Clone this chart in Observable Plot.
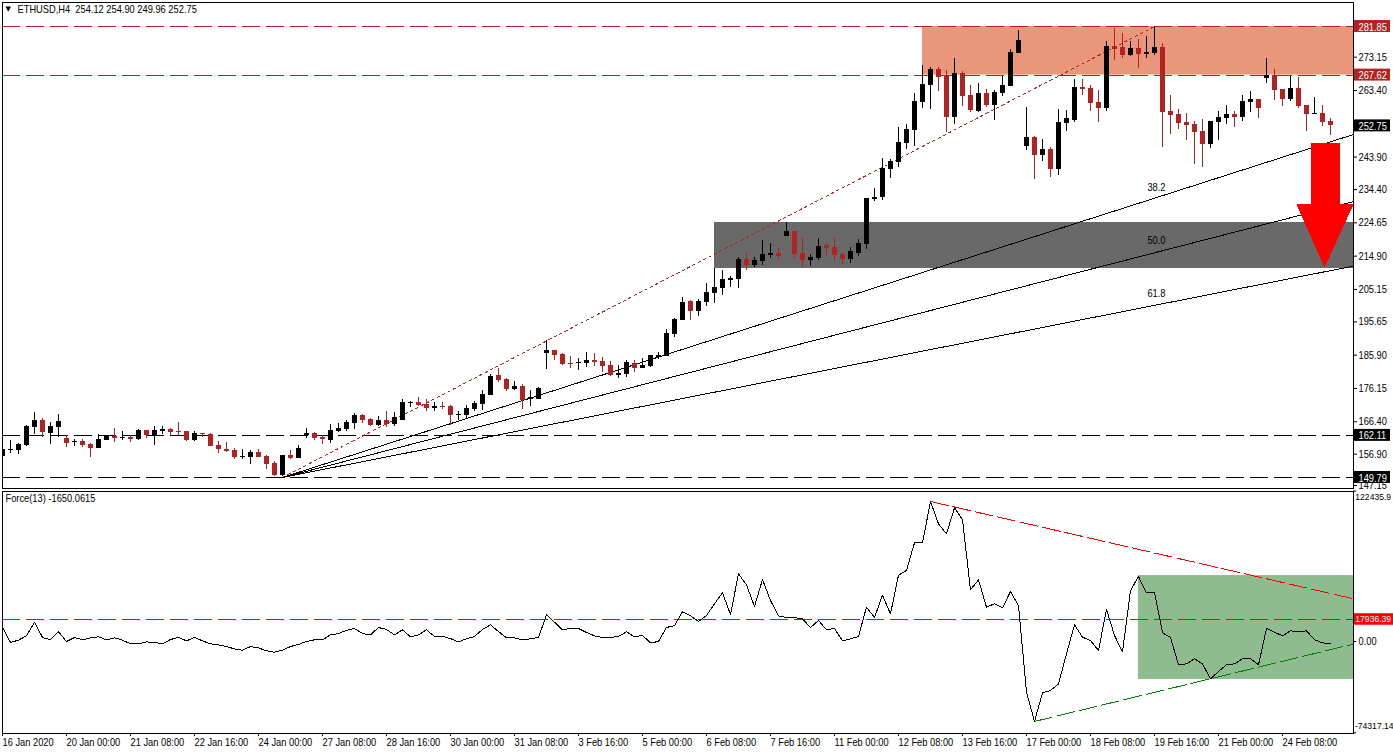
<!DOCTYPE html>
<html>
<head>
<meta charset="utf-8">
<script src="https://cdn.jsdelivr.net/npm/d3@7"></script>
<script src="https://cdn.jsdelivr.net/npm/@observablehq/plot@0.6"></script>
<style>
html,body{margin:0;padding:0;background:#fff;overflow:hidden}
svg{display:block;overflow:visible}
</style>
</head>
<body>
<div id="chart"></div>
<script>
const highs=[158.87,160.63,159.85,165.02,168.83,167.07,165.90,168.24,162.09,160.92,160.92,159.75,162.29,162.09,164.14,163.26,162.09,163.85,163.56,164.73,164.73,164.14,165.90,163.26,163.26,162.68,162.68,160.34,160.04,158.29,157.99,157.70,157.99,156.24,154.48,156.24,157.70,159.16,
164.15,162.97,162.10,165.32,165.61,166.49,168.54,168.24,167.07,167.66,169.12,168.83,172.64,172.05,173.22,172.64,171.76,171.76,170.88,169.12,170.88,172.05,175.27,179.96,181.71,178.79,177.91,177.03,175.27,176.15,189.91,186.98,186.10,185.23,184.64,186.40,
186.10,184.93,183.76,182.59,184.05,184.05,184.64,185.51,186.39,193.13,196.35,202.50,201.62,201.91,206.60,210.99,210.40,208.65,214.21,215.38,214.21,219.19,218.31,216.84,224.46,221.82,219.77,215.09,219.77,218.31,219.77,215.67,217.14,219.48,
231.48,234.41,243.19,242.90,252.27,253.15,262.23,270.42,269.84,269.84,268.96,272.47,268.67,264.57,265.15,263.40,263.10,267.20,275.11,280.67,258.13,249.64,248.76,246.41,257.54,
257.25,266.33,266.33,264.57,263.11,277.45,281.26,279.80,277.45,278.04,278.92,281.85,276.87,261.64,257.54,256.37,254.03,254.61,254.03,256.96,258.71,256.96,261.64,262.81,260.47,272.48,269.26,263.40,267.21,266.91,258.71,261.06,258.71,254.90];
const bodyTops=[157.99,157.99,159.46,164.73,166.48,166.48,164.73,166.19,161.21,160.34,160.34,159.46,160.92,161.80,161.80,161.51,161.51,163.56,163.56,163.56,163.85,163.85,163.26,163.26,162.68,162.68,162.38,159.16,157.99,157.70,155.94,157.11,157.11,155.94,153.89,156.24,156.24,158.29,
162.68,162.68,161.51,163.56,164.15,165.90,167.95,167.95,166.78,166.49,166.49,167.37,171.76,171.76,171.76,171.17,170.59,170.59,170.59,168.24,170.00,171.47,174.10,179.37,179.66,178.49,176.44,176.44,173.22,175.86,186.98,186.98,185.81,183.18,183.47,184.06,
184.05,183.76,182.59,180.24,183.46,183.17,182.59,185.51,185.51,191.96,196.05,201.03,201.33,201.33,203.96,205.42,207.77,208.06,213.62,213.62,213.33,215.09,215.38,215.38,221.82,221.82,215.38,214.21,217.43,217.72,217.14,215.09,215.97,218.31,
231.48,231.77,240.27,242.32,247.88,251.68,259.88,264.86,269.25,269.25,267.50,268.08,268.08,261.64,262.23,262.23,262.52,264.57,274.23,277.74,249.34,249.34,245.83,245.83,253.73,
254.91,263.98,263.98,263.69,259.59,275.99,275.99,275.70,275.40,275.40,274.23,275.70,275.70,256.96,256.08,253.74,253.15,251.10,254.03,255.20,256.08,256.08,259.89,260.47,260.47,267.50,267.50,263.40,263.69,263.69,258.71,256.37,256.37,254.12];
const bodyBottoms=[156.04,157.80,157.70,159.16,164.43,162.97,162.68,164.43,159.75,159.94,159.16,158.29,158.29,160.63,161.21,161.21,160.92,160.92,162.09,162.09,163.26,162.97,162.97,160.63,160.63,162.29,158.87,157.99,157.41,155.65,155.65,155.65,155.65,153.60,150.38,150.38,155.36,155.36,
162.10,161.22,160.92,160.63,163.27,163.85,165.61,166.49,165.02,165.02,165.32,165.32,166.49,171.47,170.88,170.00,170.00,170.29,167.95,167.95,167.95,169.71,171.17,173.81,178.20,175.56,175.56,172.34,172.64,172.64,186.10,185.52,182.88,182.88,183.08,183.18,
183.46,182.29,179.66,179.66,179.95,181.71,181.71,182.29,184.93,185.22,191.66,195.76,198.40,198.40,201.03,203.67,205.13,207.47,207.77,211.87,211.87,213.04,214.79,214.50,220.36,215.09,213.33,213.33,213.92,216.84,214.79,213.62,213.62,215.38,
218.01,231.19,231.77,239.97,242.02,247.59,251.39,259.59,264.57,266.91,255.20,255.20,261.35,257.25,256.96,258.71,258.71,262.23,264.28,273.94,246.71,244.07,244.07,239.97,239.97,
253.44,254.32,263.40,259.30,257.84,257.84,275.11,273.35,273.35,273.65,273.65,273.94,256.66,255.79,253.44,252.86,250.81,247.29,247.29,253.74,254.91,255.20,255.20,259.59,257.84,266.62,263.11,260.47,260.47,258.42,256.08,256.08,253.74,252.75];
const lows=[154.48,156.92,156.53,158.87,162.29,161.51,159.46,161.51,158.58,158.87,158.58,155.65,158.29,160.63,160.04,160.63,160.04,160.63,161.21,159.16,162.38,162.09,162.09,160.34,160.34,161.51,158.87,156.82,157.11,155.06,155.06,153.60,155.65,152.14,150.09,150.09,155.06,155.36,
161.22,160.63,159.46,159.75,162.97,163.27,163.85,165.61,164.73,164.73,164.44,164.73,166.49,170.29,170.59,169.12,169.12,169.71,165.02,166.49,167.07,169.12,169.42,173.81,177.61,174.98,175.27,169.71,170.59,172.64,181.42,184.06,182.59,181.71,181.13,182.01,
182.29,180.54,179.37,178.78,179.07,180.54,181.71,182.00,184.34,185.22,190.78,195.76,195.76,196.93,199.86,200.74,203.08,205.42,205.13,210.40,211.28,211.87,213.92,213.33,220.36,213.92,211.28,211.57,213.33,214.79,213.04,212.16,212.45,214.50,
216.55,230.60,230.90,237.34,240.56,245.83,246.71,257.83,257.54,262.81,250.81,253.15,258.42,256.66,256.66,258.13,254.32,261.35,264.28,273.94,245.54,237.04,242.31,237.63,238.22,
251.10,253.74,261.64,256.96,253.74,256.96,271.89,272.48,273.06,269.55,272.48,273.35,246.42,250.22,251.69,248.47,241.44,240.56,246.12,248.47,253.15,252.27,254.03,256.66,254.91,265.16,260.18,258.42,259.89,257.84,251.10,256.08,252.56,249.96];
const bearishBars=[5,8,10,11,14,16,18,21,22,23,25,26,27,28,29,32,33,34,36,39,40,45,46,48,52,53,55,56,62,63,65,69,70,71,74,75,76,79,86,93,97,99,100,103,104,105,117,118,120,121,123,129,131,135,136,137,139,140,142,145,146,147,148,149,150,154,157,159,160,162,163,165,166];
const forceValues=[11400,-800,1100,4600,15700,3300,1400,7900,0,3300,1400,3000,3800,1400,3000,1100,-1900,-1900,-300,-800,-1900,1600,3300,500,3300,500,-1900,-2700,-4100,-6000,-7100,-4100,-5200,-7600,-8700,-7100,-4100,-2400,0,1400,1400,5400,6500,9000,10600,6500,5400,11400,9800,5400,9500,3800,5400,9500,4100,4100,2400,-300,2200,4100,9800,13600,8100,3000,3000,1400,2200,3300,21700,15700,9500,10600,10600,7300,4600,3300,3300,4100,7900,3800,4900,-1100,0,11400,13000,24200,20900,16300,21200,30700,39600,22000,55100,46100,28500,50500,33400,20900,19500,19500,18500,11400,17100,9500,10600,500,2200,4100,28000,19500,37700,22500,54000,57800,80300,80300,114000,95800,87700,108800,99100,42100,50200,28000,30700,27400,40700,29300,-41300,-65100,-41800,-39900,-34500,-10000,13600,3500,800,-7300,26100,4900,-8400,41500,52900,39600,39600,7100,3300,-19000,-18200,-14100,-18200,-30400,-24400,-19000,-18200,-14100,-14100,-19000,10600,7600,4600,8700,7900,8700,1400,-1100,-1650];

const dateTicks=["16 Jan 2020","20 Jan 00:00","21 Jan 08:00","22 Jan 16:00","24 Jan 00:00","27 Jan 08:00","28 Jan 16:00","30 Jan 00:00","31 Jan 08:00","3 Feb 16:00","5 Feb 00:00","6 Feb 08:00","7 Feb 16:00","11 Feb 00:00","12 Feb 08:00","13 Feb 16:00","17 Feb 00:00","18 Feb 08:00","19 Feb 16:00","21 Feb 00:00","24 Feb 08:00"];
const priceTicks=[273.15,263.40,243.90,234.40,224.65,214.90,205.15,195.65,185.90,176.15,166.40,156.90];
const bottomPriceTick=147.15;
const levelsRed=[281.85,267.62];
const levelsBlack=[162.11,149.79];
const lastPrice=252.75;
const forceTicks=[122435.9,0,-74317.14];
const forceLevel=17936.39;
const fanLevels=[{name:"38.2",end:250.23,textPrice:234.71},{name:"50.0",end:230.6,textPrice:219.19},{name:"61.8",end:211.69,textPrice:203.67}];
const arrowBars=[163.5,167.125,167.125,168.875,165.25,161.75,163.5,163.5];
const arrowPrices=[247.88,247.88,229.73,229.73,211.28,229.73,229.73,247.88];

const FONT='"Liberation Sans",Arial,sans-serif';
const FS=11;
const EDGE_FS=8.6;
const bearish=new Set(bearishBars);
const bars=highs.map((h,i)=>({i,h,t:bodyTops[i],b:bodyBottoms[i],l:lows[i],c:bearish.has(i)?"#B22222":"#000000"}));
const force=forceValues.map((v,i)=>({i,v}));
const xDomain=[0,168.875];
const lastX=168.875;
const tickBars=dateTicks.map((_,k)=>k*8);
const crisp={shapeRendering:"crispEdges"};

const priceLabels=[...levelsRed.map(p=>({p,f:"#B22222"})),{p:lastPrice,f:"#000000"},...levelsBlack.map(p=>({p,f:"#000000"}))];

const upper=Plot.plot({
  width:1393,height:490,marginLeft:2,marginRight:40,marginTop:2,marginBottom:2,
  style:{fontFamily:FONT,fontSize:FS+"px",background:"transparent",color:"#000",overflow:"visible"},
  x:{domain:xDomain,axis:null},
  y:{domain:[146.56,288.88],label:null,axis:null},
  marks:[
    Plot.rect([0],{x1:115,x2:lastX,y1:267.62,y2:281.85,fill:"#E9967A"}),
    Plot.rect([0],{x1:89,x2:lastX,y1:210.99,y2:224.46,fill:"#696969"}),
    Plot.ruleY(levelsRed,{stroke:"#B22222",strokeWidth:1,strokeDasharray:"18,6",...crisp}),
    Plot.ruleY(levelsBlack,{stroke:"#000",strokeWidth:1,strokeDasharray:"18,6",...crisp}),
    Plot.line([[35,149.79],[144,281.85]],{x:d=>d[0],y:d=>d[1],stroke:"#B22222",strokeWidth:1,strokeDasharray:"2.5,3.5",...crisp}),
    ...fanLevels.map(f=>Plot.line([[35,149.79],[lastX,f.end]],{x:d=>d[0],y:d=>d[1],stroke:"#000",strokeWidth:1,...crisp})),
    Plot.ruleX(bars,{x:"i",y1:"l",y2:"h",stroke:"c",strokeWidth:1,...crisp}),
    Plot.rect(bars,{x1:d=>d.i-0.25,x2:d=>d.i+0.375,y1:"b",y2:d=>Math.max(d.t,d.b+0.3),fill:"c",clip:true,...crisp}),
    Plot.text(fanLevels,{x:144.25,y:"textPrice",text:"name",fill:"#000",fontSize:FS}),
    Plot.line(arrowBars.map((x,k)=>[x,arrowPrices[k]]),{x:d=>d[0],y:d=>d[1],fill:"#FF0000",stroke:"none",curve:"linear",...crisp}),
    Plot.frame({stroke:"#000"}),
    Plot.axisY({anchor:"right",ticks:priceTicks,tickFormat:d=>d.toFixed(2),tickSize:3,tickPadding:2,label:null,fontSize:FS,dy:1}),
    Plot.axisY({anchor:"right",ticks:[bottomPriceTick],tickFormat:d=>d.toFixed(2),tickSize:3,tickPadding:2,label:null,fontSize:FS,dy:-1}),
    Plot.rect(priceLabels,{x1:169,x2:173.5,y1:d=>d.p-1.75,y2:d=>d.p+1.75,fill:"f"}),
    Plot.text(priceLabels,{x:169.5,y:"p",dy:0.5,text:d=>d.p.toFixed(2),fill:"#fff",textAnchor:"start",fontSize:FS}),
    Plot.text(["\u25BC"],{frameAnchor:"top-left",dx:3,dy:4,fontSize:7,fill:"#000",textAnchor:"start",fontFamily:"DejaVu Sans"}),
    Plot.text(["ETHUSD,H4  254.12 254.90 249.96 252.75"],{frameAnchor:"top-left",dx:15,dy:3,fontSize:FS,fill:"#000",textAnchor:"start",lineAnchor:"top"})
  ]
});

const lower=Plot.plot({
  width:1393,height:263,marginLeft:2,marginRight:40,marginTop:1,marginBottom:20,
  style:{fontFamily:FONT,fontSize:FS+"px",background:"transparent",color:"#000",overflow:"visible"},
  x:{domain:xDomain,axis:null},
  y:{domain:[-74906,122130],label:null,axis:null},
  marks:[
    Plot.rect([0],{x1:142,x2:lastX,y1:-30900,y2:53700,fill:"#8FBC8F"}),
    Plot.ruleY([forceLevel],{stroke:"#FF0000",strokeWidth:1,strokeDasharray:"18,6",...crisp}),
    Plot.line([[116,114000],[lastX,34770]],{x:d=>d[0],y:d=>d[1],stroke:"#FF0000",strokeWidth:1,strokeDasharray:"18,5",...crisp}),
    Plot.line([[129,-65100],[lastX,-2100]],{x:d=>d[0],y:d=>d[1],stroke:"#008000",strokeWidth:1,strokeDasharray:"18,5",...crisp}),
    Plot.line(force,{x:"i",y:"v",stroke:"#000",strokeWidth:1,...crisp}),
    Plot.frame({stroke:"#000"}),
    Plot.axisX({anchor:"bottom",ticks:tickBars,tickFormat:d=>dateTicks[d/8],tickSize:3,tickPadding:2,textAnchor:"start",label:null,fontSize:FS}),
    Plot.ruleY(forceTicks,{x1:lastX,x2:lastX+0.4,stroke:"#000"}),
    Plot.text([forceTicks[0]],{x:169.1,y:d=>d,dy:6,text:()=>"122435.9",textAnchor:"start",fill:"#000",fontSize:EDGE_FS}),
    Plot.text([forceTicks[1]],{x:169.5,y:d=>d,text:()=>"0.00",textAnchor:"start",fill:"#000",fontSize:FS}),
    Plot.text([forceTicks[2]],{x:169.05,y:d=>d,dy:-7,text:()=>"-74317.14",textAnchor:"start",fill:"#000",fontSize:EDGE_FS}),
    Plot.rect([forceLevel],{x1:169,x2:175,y1:d=>d-4700,y2:d=>d+4700,fill:"#FF0000"}),
    Plot.text([forceLevel],{x:169.1,y:d=>d,text:d=>d.toFixed(2),textAnchor:"start",fill:"#fff",fontSize:EDGE_FS}),
    Plot.text(["Force(13) -1650.0615"],{frameAnchor:"top-left",dx:3,dy:3,fontSize:FS,fill:"#000",textAnchor:"start",lineAnchor:"top"})
  ]
});
const host=document.getElementById("chart");
host.append(upper,lower);
// The reference's UI font is narrower than any installed one: condense labels horizontally,
// except the small edge labels, which fit at their natural width.
host.querySelectorAll("text").forEach(t=>{
  if(t.textContent==="\u25BC")return;
  const size=parseFloat(getComputedStyle(t).fontSize);
  if(size<=EDGE_FS)return;
  const w=t.getComputedTextLength();
  if(w>0){t.setAttribute("textLength",(w*0.845).toFixed(1));t.setAttribute("lengthAdjust","spacingAndGlyphs");}
});
</script>
</body>
</html>
